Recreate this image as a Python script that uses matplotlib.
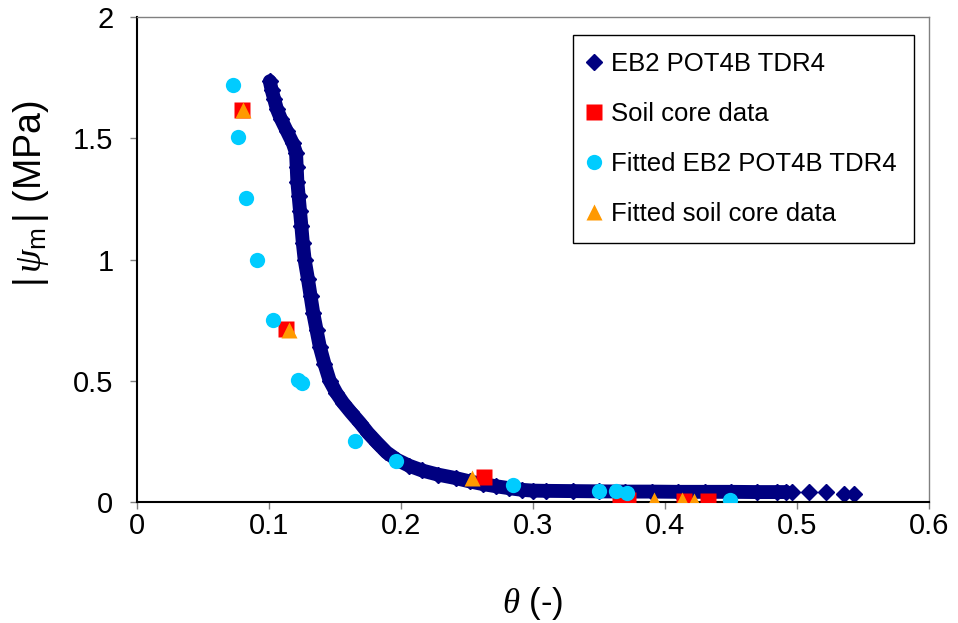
import matplotlib
matplotlib.use("Agg")
import matplotlib.pyplot as plt

plt.rcParams["font.family"] = ["Liberation Sans", "DejaVu Sans"]
plt.rcParams["mathtext.fontset"] = "custom"
plt.rcParams["mathtext.rm"] = "Liberation Sans"
plt.rcParams["mathtext.it"] = "Liberation Serif:italic"

# measured TDR4 curve (theta, |psi_m|)
tdr_theta = [0.1006, 0.102, 0.104, 0.106, 0.109, 0.1135, 0.118, 0.1205, 0.121,
             0.1215, 0.1225, 0.1235, 0.1245, 0.1256, 0.127, 0.1295, 0.1315,
             0.1335, 0.136, 0.1385, 0.142, 0.146, 0.151, 0.156, 0.162, 0.169,
             0.175, 0.182, 0.189, 0.197, 0.206, 0.216, 0.228, 0.242, 0.252,
             0.262, 0.272, 0.282, 0.292, 0.30, 0.31, 0.33, 0.35, 0.37, 0.39,
             0.41, 0.43, 0.45, 0.47, 0.485, 0.492]
tdr_psi = [1.735, 1.70, 1.66, 1.62, 1.58, 1.53, 1.48, 1.44, 1.38,
           1.32, 1.26, 1.20, 1.14, 1.07, 1.00, 0.92, 0.85,
           0.78, 0.71, 0.64, 0.57, 0.50, 0.45, 0.41, 0.37, 0.326,
           0.285, 0.244, 0.205, 0.174, 0.150, 0.130, 0.113, 0.098, 0.085,
           0.074, 0.065, 0.057, 0.050, 0.047, 0.046, 0.045, 0.044, 0.043, 0.043,
           0.042, 0.042, 0.042, 0.041, 0.041, 0.041]
# sparse readings at the wet end
tdr_theta_end = [0.496, 0.509, 0.522, 0.536, 0.543]
tdr_psi_end = [0.041, 0.041, 0.041, 0.035, 0.035]

core_theta = [0.0794, 0.1127, 0.263, 0.366, 0.372, 0.4146, 0.4328]
core_psi = [1.616, 0.715, 0.103, 0.008, 0.008, 0.004, 0.004]

fit_tdr_theta = [0.0726, 0.0764, 0.0825, 0.0908, 0.103, 0.122, 0.125, 0.165,
                 0.196, 0.285, 0.3497, 0.363, 0.371, 0.449]
fit_tdr_psi = [1.719, 1.504, 1.252, 1.0, 0.752, 0.504, 0.49, 0.252,
               0.169, 0.07, 0.045, 0.045, 0.037, 0.008]

fit_core_theta = [0.080, 0.115, 0.2535, 0.392, 0.413, 0.422]
fit_core_psi = [1.616, 0.711, 0.099, 0.008, 0.008, 0.006]

navy = "#000080"
fig = plt.figure(figsize=(9.58, 6.23), dpi=100)
ax = fig.add_axes([0.143, 0.1942, 0.8267, 0.7785])

ax.plot(tdr_theta, tdr_psi, "-", color=navy, lw=10, solid_capstyle="round",
        solid_joinstyle="round", zorder=2)
ax.plot(tdr_theta + tdr_theta_end, tdr_psi + tdr_psi_end, "D", color=navy,
        ms=8, mec=navy, lw=0, label="EB2 POT4B TDR4", zorder=2)
ax.plot(core_theta, core_psi, "s", color="#ff0000", ms=12, mec="none",
        lw=0, label="Soil core data", zorder=3)
ax.plot(fit_tdr_theta, fit_tdr_psi, "o", color="#00ccff", ms=11, mec="none",
        lw=0, label="Fitted EB2 POT4B TDR4", zorder=4)
ax.plot(fit_core_theta, fit_core_psi, "^", color="#ff9900", ms=11.5,
        mec="none", lw=0, label="Fitted soil core data", zorder=5)

ax.set_xlim(0, 0.6)
ax.set_ylim(0, 2)
ax.set_xticks([0, 0.1, 0.2, 0.3, 0.4, 0.5, 0.6])
ax.set_xticklabels(["0", "0.1", "0.2", "0.3", "0.4", "0.5", "0.6"])
ax.set_yticks([0, 0.5, 1, 1.5, 2])
ax.set_yticklabels(["0", "0.5", "1", "1.5", "2"])
ax.tick_params(axis="both", direction="out", length=5, width=1,
               color="#808080", labelsize=21)
ax.tick_params(axis="x", pad=2)
ax.tick_params(axis="y", pad=12)

for side in ("top", "right"):
    ax.spines[side].set_color("#808080")
    ax.spines[side].set_linewidth(1)
for side in ("left", "bottom"):
    ax.spines[side].set_color("black")
    ax.spines[side].set_linewidth(1.5)

ax.set_xlabel(r"$\mathit{\theta}$ (-)", fontsize=25)
ax.xaxis.set_label_coords(0.5, -0.172)
ax.set_ylabel(r"$|\,\mathit{\psi}_{\mathrm{m}}\,|$ (MPa)", fontsize=27)
ax.yaxis.set_label_coords(-0.109, 0.635)

leg = ax.legend(loc="upper left", bbox_to_anchor=(0.5505, 0.963),
                fontsize=18.5, frameon=True, fancybox=False, framealpha=1,
                edgecolor="black", borderpad=0.68, labelspacing=1.0,
                handlelength=0.3, handletextpad=0.5, borderaxespad=0)
leg.get_frame().set_linewidth(1)

fig.savefig("out.png", dpi=100)
